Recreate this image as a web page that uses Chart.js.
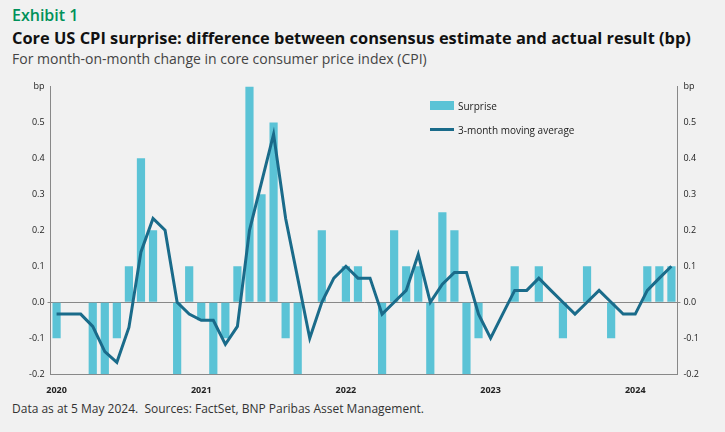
<!DOCTYPE html>
<html><head><meta charset="utf-8">
<script src="https://cdn.jsdelivr.net/npm/chart.js@4"></script>
<style>
body{margin:0;background:#f1f1f1;font-family:"Open Sans",sans-serif;width:725px;height:432px;overflow:hidden;position:relative}
.t1{position:absolute;left:12px;top:4px;color:#00915a;font-size:16px;font-weight:600}
.t2{position:absolute;left:12px;top:26px;color:#111;font-size:16.4px;font-weight:700}
.t3{position:absolute;left:12px;top:49px;color:#444;font-size:14px}
.foot{position:absolute;left:12px;top:400px;color:#333;font-size:12px}
#wrap{position:absolute;left:26px;top:78px;width:676px;height:321px}
.lg{position:absolute;font-size:10px;color:#222;left:458px}
.lg i{position:absolute;left:-28px;width:24px}
</style></head><body>
<div class="t1">Exhibit 1</div>
<div class="t2">Core US CPI surprise: difference between consensus estimate and actual result (bp)</div>
<div class="t3">For month-on-month change in core consumer price index (CPI)</div>
<div id="wrap"><canvas id="c"></canvas></div>
<div class="lg" style="top:99px"><i style="top:2px;height:9px;background:#5bc3d6"></i>Surprise</div>
<div class="lg" style="top:123px"><i style="top:5px;height:3px;background:#1a6b8a"></i>3-month moving average</div>
<div class="foot">Data as at 5 May 2024.&nbsp; Sources: FactSet, BNP Paribas Asset Management.</div>
<script>
// Jan 2020 .. Apr 2024
const years = [2020, 2021, 2022, 2023, 2024];
const surprise = [
  -0.1, 0, 0, -0.2, -0.2, -0.1, 0.1, 0.4, 0.2, 0, -0.2, 0.1,
  -0.05, -0.2, -0.1, 0.1, 0.6, 0.3, 0.5, -0.1, -0.2, 0, 0.2, 0,
  0.1, 0.1, 0, -0.2, 0.2, 0.1, 0.1, -0.2, 0.25, 0.2, -0.2, -0.1,
  0, 0, 0.1, 0, 0.1, 0, -0.1, 0, 0.1, 0, -0.1, 0,
  0, 0.1, 0.1, 0.1
];
const movingAvg = [
  -0.033, -0.033, -0.033, -0.067, -0.137, -0.167, -0.07, 0.14, 0.233, 0.2, 0, -0.033,
  -0.05, -0.05, -0.117, -0.067, 0.2, 0.333, 0.467, 0.233, 0.067, -0.1, 0, 0.067,
  0.1, 0.067, 0.067, -0.033, 0, 0.033, 0.133, 0, 0.05, 0.083, 0.083, -0.033,
  -0.1, -0.033, 0.033, 0.033, 0.067, 0.033, 0, -0.033, 0, 0.033, 0, -0.033,
  -0.033, 0.033, 0.067, 0.1
];
const labels = surprise.map((v, i) => (i % 12 === 0) ? String(years[i / 12]) : '');
const yTickLabel = v => Math.abs(v - 0.6) < 1e-6 ? 'bp' : v.toFixed(1);
const yAxis = (pos) => ({
  position: pos, min: -0.2, max: 0.6,
  border: { color: '#888' },
  grid: { drawOnChartArea: pos === 'left', drawTicks: true, tickLength: 3,
    color: ctx => ctx.tick && Math.abs(ctx.tick.value) < 1e-6 ? '#888' : 'rgba(0,0,0,0)' },
  ticks: { stepSize: 0.1, color: '#222', font: { family: 'Open Sans', size: 9 }, callback: yTickLabel }
});
new Chart(document.getElementById('c'), {
  type: 'bar',
  data: {
    labels,
    datasets: [
      { type: 'line', label: '3-month moving average', data: movingAvg, borderColor: '#1a6b8a', borderWidth: 3, pointRadius: 0, tension: 0, yAxisID: 'y', order: 0 },
      { label: 'Surprise', data: surprise, backgroundColor: '#5bc3d6', barPercentage: 0.68, categoryPercentage: 1, yAxisID: 'y', order: 1 }
    ]
  },
  options: {
    responsive: true, maintainAspectRatio: false, animation: false,
    plugins: { legend: { display: false }, tooltip: { enabled: false } },
    scales: {
      x: { offset: true, border: { color: '#888' }, grid: { display: false },
        ticks: { autoSkip: false, maxRotation: 0, color: '#222', font: { family: 'Open Sans', size: 9, weight: 'bold' } } },
      y: yAxis('left'),
      y2: yAxis('right')
    }
  }
});
</script>
</body></html>
